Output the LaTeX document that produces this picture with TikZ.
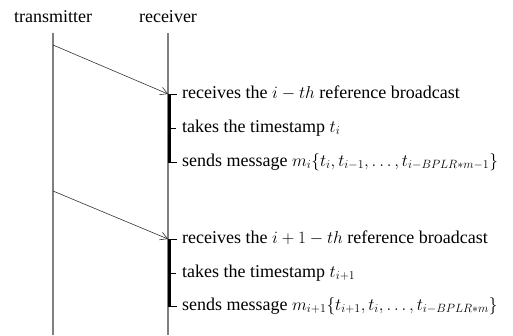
\documentclass[tikz,border=0pt]{standalone}
\usepackage{fontspec}
\setmainfont{Liberation Serif}
\usetikzlibrary{arrows.meta}

\begin{document}
\begin{tikzpicture}[x=1pt, y=-1pt, font=\fontsize{18}{20}\selectfont,
    lifeline/.style={draw=lineColour, line width=1.2pt},
    broadcast/.style={draw=black!80, line width=0.6pt, -{Straight Barb[length=7pt, width=8pt]}},
    busy/.style={draw=black, line width=3pt},
    tick/.style={draw=black, line width=0.7pt},
    event/.style={anchor=west, inner sep=0pt, text height=12pt, text depth=4pt}]

    \definecolor{lineColour}{HTML}{808080}

    % Fix the page size
    \useasboundingbox (0,0) rectangle (513,335);

    % Names of the two stations
    \node[anchor=base] (tx) at (53,22) {transmitter};
    \node[anchor=base] (rx) at (168,22) {receiver};

    % Draw the time lines
    \coordinate (txTop) at (53,33);
    \coordinate (txBot) at (53,335);
    \coordinate (rxTop) at (168,33);
    \coordinate (rxBot) at (168,335);
    \draw[lifeline] (txTop) -- (txBot);
    \draw[lifeline] (rxTop) -- (rxBot);

    % First reference broadcast
    \coordinate (send1) at (53,45);
    \coordinate (recv1) at (168,94);
    \coordinate (stamp1) at (168,128);
    \coordinate (msg1) at (168,162);
    \node[event] (recvText1) at (182,94) {receives the $i-th$ reference broadcast};
    \node[event] (stampText1) at (182,128) {takes the timestamp $t_i$};
    \node[event] (msgText1) at (182,162) {sends message $m_i\{t_i,t_{i-1},\ldots,t_{i-BPLR*m-1}\}$};
    \draw[broadcast] (send1) -- (recv1);
    \draw[busy] ([xshift=1pt]recv1) -- ([xshift=1pt]msg1);
    \draw[tick] (recv1) -- ([xshift=-5pt]recvText1.west);
    \draw[tick] ([xshift=3pt]stamp1) -- ([xshift=-6pt]stampText1.west);
    \draw[tick] (msg1) -- ([xshift=-5pt]msgText1.west);

    % Second reference broadcast
    \coordinate (send2) at (53,191);
    \coordinate (recv2) at (168,239);
    \coordinate (stamp2) at (168,273);
    \coordinate (msg2) at (168,306);
    \node[event] (recvText2) at (182,239) {receives the $i+1-th$ reference broadcast};
    \node[event] (stampText2) at (182,273) {takes the timestamp $t_{i+1}$};
    \node[event] (msgText2) at (182,306) {sends message $m_{i+1}\{t_{i+1},t_i,\ldots,t_{i-BPLR*m}\}$};
    \draw[broadcast] (send2) -- (recv2);
    \draw[busy] ([xshift=1pt]recv2) -- ([xshift=1pt]msg2);
    \draw[tick] (recv2) -- ([xshift=-5pt]recvText2.west);
    \draw[tick] ([xshift=3pt]stamp2) -- ([xshift=-6pt]stampText2.west);
    \draw[tick] (msg2) -- ([xshift=-5pt]msgText2.west);

\end{tikzpicture}
\end{document}
